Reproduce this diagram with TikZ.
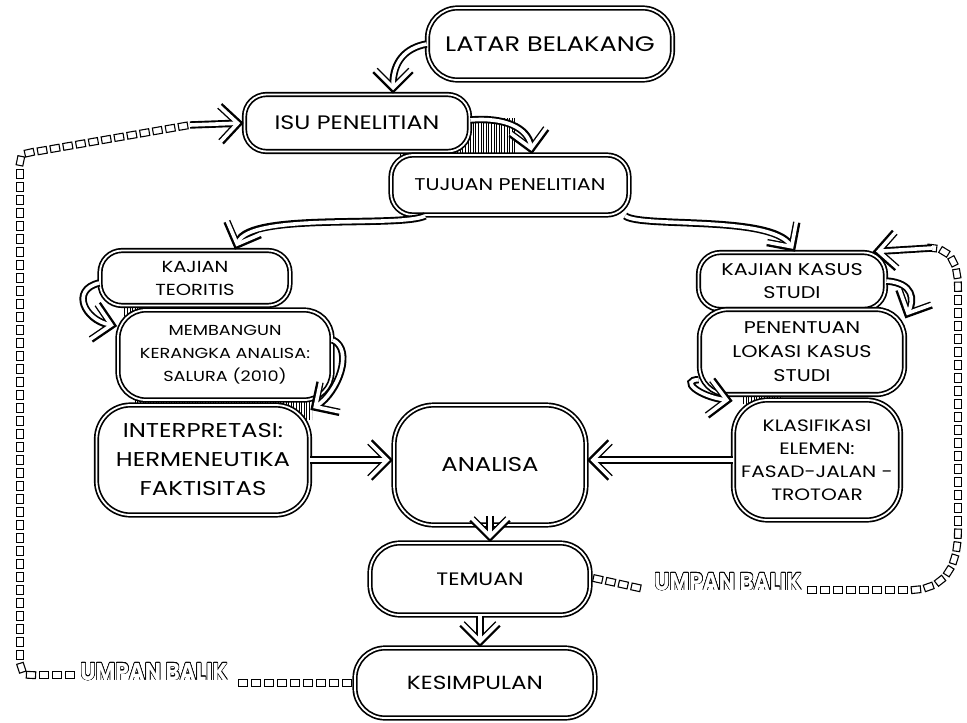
\documentclass[tikz,border=0pt]{standalone}
\usepackage{fontspec}
\usepackage{graphicx}
\setmainfont{Poppins}[FakeStretch=1.22]
\newfontfamily\fbfont{Poppins}[FakeStretch=1.2]
\usepackage[copies]{contour}
\usetikzlibrary{arrows.meta,patterns.meta,decorations.markings}
\newcommand{\fs}[2]{\fontsize{#1}{#2}\selectfont}
\newcommand{\fblabel}[1]{\scalebox{1}[1.35]{\contour{black}{\textcolor{white}{#1}}}}
\tikzset{
  box/.style={draw=black, line width=1.7pt, double=white, double distance=1.8pt, fill=white,
    rounded corners=22pt, align=center, inner sep=0pt},
  hollow/.style={preaction={draw=black, line width=7.4pt, shorten >=0pt,
      -{Straight Barb[length=18pt,width=36pt]}},
    draw=white, line width=3.6pt, shorten >=3.4pt, -{Straight Barb[length=18pt,width=36pt]}},
  chain/.style={postaction={decorate, decoration={markings,
      mark=between positions 0 and 1 step 13pt with {\draw[sharp corners, line width=1.1pt, fill=white] (-4.6pt,-3.4pt) rectangle (4.6pt,3.4pt);}}}},
  hatch/.style={pattern={Lines[angle=90,distance=2.6pt,line width=0.7pt]}},
  fb/.style={font=\fbfont\bfseries\fontsize{18}{18}\selectfont, inner sep=1pt},
}
\begin{document}
\begin{tikzpicture}[x=1pt,y=-1pt]
\useasboundingbox (0,0) rectangle (967,723);
% shading hatches
\fill[hatch] (400,118) rectangle (515,160);
\fill[hatch] (123,296) rectangle (212,316);
\fill[hatch] (135,395) rectangle (312,420);
\fill[hatch] (710,300) rectangle (880,318);
\fill[hatch] (743,385) rectangle (782,404);
% nodes
\node[box, minimum width=245pt, minimum height=72pt, rounded corners=30pt, font=\fs{21}{24}] (lat) at (550,44) {LATAR BELAKANG};
\node[box, minimum width=225pt, minimum height=57pt, font=\fs{19.5}{22}] (isu) at (357,123) {ISU PENELITIAN};
\node[box, minimum width=238pt, minimum height=60pt, font=\fs{17}{20}] (tuj) at (510,185) {TUJUAN PENELITIAN};
\node[box, minimum width=190pt, minimum height=55pt, font=\fs{16}{23}] (kt) at (195,278) {KAJIAN\\TEORITIS};
\node[box, minimum width=214pt, minimum height=90pt, rounded corners=28pt, font=\fs{14.5}{23}] (mk) at (225,355) {MEMBANGUN\\KERANGKA ANALISA:\\SALURA (2010)};
\node[box, minimum width=213pt, minimum height=110pt, rounded corners=34pt, font=\fs{20}{29}] (ip) at (203,460) {INTERPRETASI:\\HERMENEUTIKA\\FAKTISITAS};
\node[box, minimum width=192pt, minimum height=120pt, rounded corners=40pt, font=\fs{20}{22}] (an) at (490,465) {ANALISA};
\node[box, minimum width=187pt, minimum height=57pt, font=\fs{17}{23}] (kks) at (792,281) {KAJIAN KASUS\\STUDI};
\node[box, minimum width=205pt, minimum height=85pt, rounded corners=28pt, font=\fs{17}{24}] (pl) at (802,352) {PENENTUAN\\LOKASI KASUS\\STUDI};
\node[box, minimum width=167pt, minimum height=120pt, rounded corners=34pt, font=\fs{16.5}{23}] (kl) at (817,460) {KLASIFIKASI\\ELEMEN:\\FASAD-JALAN -\\TROTOAR};
\node[box, minimum width=220pt, minimum height=72pt, rounded corners=30pt, font=\fs{18}{20}] (tem) at (480,579) {TEMUAN};
\node[box, minimum width=240pt, minimum height=70pt, rounded corners=30pt, font=\fs{19}{22}] (kes) at (475,683) {KESIMPULAN};
% connectors
\draw[hollow] (lat.west) .. controls (405,48) and (393,62) .. ([xshift=36pt]isu.north);
\draw[hollow] ([yshift=3pt]isu.east) .. controls (505,117) and (528,128) .. ([xshift=22pt]tuj.north);
\draw[hollow] (tuj.-160) .. controls (400,228) and (250,212) .. ([xshift=40pt]kt.north);
\draw[hollow] (tuj.-15) .. controls (640,228) and (770,215) .. ([xshift=3pt]kks.north);
\draw[hollow] ([yshift=-5pt]kt.west) .. controls (70,290) and (85,320) .. (mk.165);
\draw[hollow] ([yshift=15pt]mk.east) .. controls (354,350) and (338,392) .. (ip.25);
\draw[hollow] (ip.east) -- (ip.east -| an.west);
\draw[hollow] (kl.west) -- (kl.west -| an.east);
\draw[hollow] (kks.east) .. controls (914,283) and (914,300) .. (pl.18);
\draw[hollow] (pl.195) .. controls (680,380) and (698,396) .. (kl.145);
\draw[hollow] ([yshift=10pt]an.south) -- (an.south |- tem.north);
\draw[hollow] (tem.south) -- (tem.south |- kes.north);
% feedback left
\node[fb] (ub1) at (154,672) {\fblabel{UMPAN BALIK}};
\coordinate (l0) at (238,683);
\coordinate (l1) at (70,675);
\coordinate (l2) at (190,125);
\path[chain] ([xshift=-7pt]kes.west) -- (l0);
\path[chain] (l1) -- (32,675) .. controls (22,675) and (20,668) .. (20,655) -- (20,165) .. controls (20,156) and (24,153) .. (34,152) -- (l2);
\draw[hollow] (l2) -- (isu.west);
% feedback right
\node[fb] (ub2) at (728,582) {\fblabel{UMPAN BALIK}};
\coordinate (r0) at (648,590);
\coordinate (r1) at (812,590);
\coordinate (r2) at (932,248);
\path[chain] ([xshift=7pt]tem.east) -- (r0);
\path[chain] (r1) -- (912,590) .. controls (950,588) and (958,560) .. (958,528) -- (958,290) .. controls (958,262) and (950,250) .. (r2);
\draw[hollow] (r2) -- (kks.20);
\end{tikzpicture}
\end{document}
